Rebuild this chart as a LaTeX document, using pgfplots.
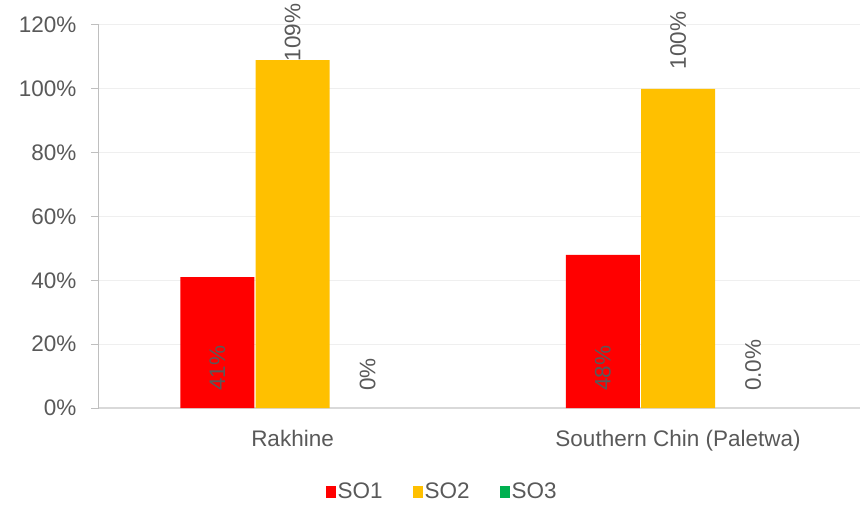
\documentclass[border=0pt]{standalone}
\usepackage{pgfplots}
\pgfplotsset{compat=1.18}
\usepackage{fontspec}
\setmainfont{Liberation Sans}
\definecolor{txt}{HTML}{595959}
\definecolor{so1}{HTML}{FF0000}
\definecolor{so2}{HTML}{FFC000}
\definecolor{so3}{HTML}{00B050}
\definecolor{gridc}{HTML}{EFEFEF}
\definecolor{yax}{HTML}{BFBFBF}
\definecolor{xax}{HTML}{D9D9D9}
\newcommand\f{\fontsize{22.5}{27}\selectfont}
\pgfplotsset{sq/.style={legend image code/.code={\fill[##1] (0pt,-6pt) rectangle (10pt,6pt);}}}
\begin{document}
\begin{tikzpicture}
\useasboundingbox (0,0) rectangle (860pt,504pt);
\begin{axis}[
  at={(99pt,96pt)}, anchor=south west,
  scale only axis, width=761pt, height=383pt,
  xmin=-0.502, xmax=1.472, ymin=0, ymax=120,
  bar width=0.192,
  xtick={0,1}, xticklabels={Rakhine, Southern Chin (Paletwa)},
  ytick={0,20,...,120},
  yticklabel={\pgfmathprintnumber{\tick}\%},
  /pgf/number format/assume math mode=true,
  ticklabel style={font=\f, text=txt},
  yticklabel style={xshift=-11pt},
  xticklabel style={yshift=-11pt},
  axis x line*=bottom, axis y line*=left,
  x axis line style={draw=xax, line width=1.5pt},
  y axis line style={draw=yax, line width=1pt},
  xtick style={draw=none},
  ytick style={draw=yax, line width=1pt},
  tick align=outside, major tick length=8pt,
  ymajorgrids, major grid style={draw=gridc, line width=1pt},
  legend columns=3,
  legend style={at={(0.451,-0.219)}, anchor=center, draw=none, fill=none,
    font=\f, text=txt, nodes={inner sep=2pt},
    /tikz/every even column/.append style={column sep=28pt}},
]
\addplot[ybar, sq, bar shift=-0.195, fill=so1, draw=none] coordinates {(0,41) (1,48)};
\addlegendentry{SO1}
\addplot[ybar, sq, bar shift=0, fill=so2, draw=none] coordinates {(0,109) (1,100)};
\addlegendentry{SO2}
\addplot[ybar, bar shift=0.195, fill=none, draw=none,
  legend image code/.code={\fill[so3] (0pt,-6pt) rectangle (10pt,6pt);}] coordinates {(0,0) (1,0)};
\addlegendentry{SO3}
% value labels
\addplot[draw=none, mark=none, forget plot, nodes near coords, point meta=explicit symbolic,
  every node near coord/.append style={rotate=90, anchor=west, inner sep=0pt, font=\f, text=txt}]
  coordinates {(-0.195,5.3) [41\%] (0.805,5.3) [48\%] (0.195,5.3) [0\%] (1.195,5.3) [0.0\%] (0,108.5) [109\%] (1,106) [100\%]};
\end{axis}
\end{tikzpicture}
\end{document}
